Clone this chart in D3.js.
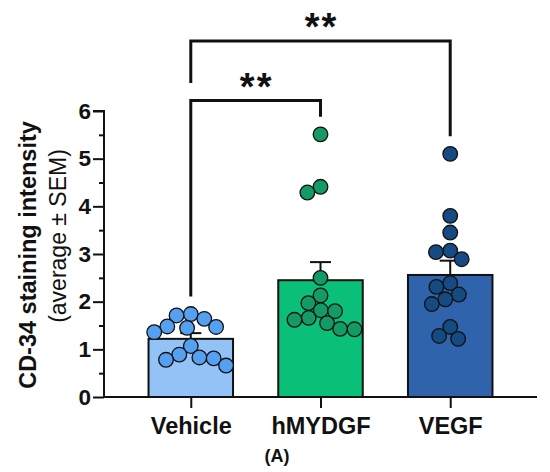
<!DOCTYPE html>
<html>
<head>
<meta charset="utf-8">
<script src="https://cdn.jsdelivr.net/npm/d3@7"></script>
<style>
  html, body { margin: 0; padding: 0; background: #fff; }
  svg { display: block; }
  text { font-family: "Liberation Sans", Arial, Helvetica, sans-serif; }
</style>
</head>
<body>
<svg id="chart" width="550" height="472"></svg>
<script>
// ---------------- data ----------------
const categories = ["Vehicle", "hMYDGF", "VEGF"];
const vehicleValues = [1.74, 1.71, 1.64, 1.48, 1.47, 1.45, 1.36, 1.07, 0.89, 0.83, 0.81, 0.78, 0.66];
const hmydgfValues  = [5.51, 4.41, 4.29, 2.50, 2.13, 1.97, 1.82, 1.80, 1.66, 1.62, 1.55, 1.43, 1.42];
const vegfValues    = [5.10, 3.80, 3.45, 3.07, 3.04, 2.89, 2.39, 2.31, 2.15, 2.05, 1.95, 1.47, 1.28, 1.22];
const meanValues = [1.22, 2.45, 2.56];
const semValues  = [0.12, 0.38, 0.30];
const yTickValues = [0, 1, 2, 3, 4, 5, 6];
const yMinorTickValues = [0.5, 1.5, 2.5, 3.5, 4.5, 5.5];
const comparisonFrom = ["Vehicle", "Vehicle"];
const comparisonTo   = ["hMYDGF", "VEGF"];
const comparisonLabels = ["**", "**"];
const yTitle = "CD-34 staining intensity";
const ySubtitle = "(average \u00b1 SEM)";
const panelLabel = "(A)";

// ---------------- layout / style ----------------
const groupValues = [vehicleValues, hmydgfValues, vegfValues];
const barColors = ["#93c2f6", "#0abf77", "#2f63ab"];
const dotColors = ["#55a0f1", "#139a67", "#164a82"];

const svg = d3.select("#chart");
const axisX0 = 104, axisX1 = 537;
const y = d3.scaleLinear().domain([0, 6]).range([397, 111]);
const x = d3.scalePoint().domain(categories).range([axisX0, axisX1]).padding(0.669);
const barWidth = 84.5;
const r = 7.3;

// bars
svg.append("g").selectAll("rect").data(categories).join("rect")
  .attr("x", d => x(d) - barWidth / 2)
  .attr("width", barWidth)
  .attr("y", (d, i) => y(meanValues[i]))
  .attr("height", (d, i) => y(0) - y(meanValues[i]))
  .attr("fill", (d, i) => barColors[i])
  .attr("stroke", "#111")
  .attr("stroke-width", 2);

// error bars (upward only)
const eb = svg.append("g").attr("stroke", "#111").attr("stroke-width", 2);
categories.forEach((c, i) => {
  const top = y(meanValues[i] + semValues[i]);
  eb.append("line").attr("x1", x(c)).attr("x2", x(c)).attr("y1", y(meanValues[i])).attr("y2", top);
  eb.append("line").attr("x1", x(c) - 10.5).attr("x2", x(c) + 10.5).attr("y1", top).attr("y2", top);
});

// beeswarm layout computed from values
function swarm(values, cx) {
  const minD = 2 * r * 0.98;
  const placed = [];
  const pts = values.map(v => ({ v, py: y(v) })).sort((a, b) => a.py - b.py);
  pts.forEach(p => {
    const cands = [0];
    placed.forEach(q => {
      const dy = Math.abs(q.py - p.py);
      if (dy < minD) {
        const dx = Math.sqrt(minD * minD - dy * dy);
        cands.push(q.dx + dx + 0.01, q.dx - dx - 0.01);
      }
    });
    cands.sort((a, b) => Math.abs(a) - Math.abs(b) || a - b);
    let chosen = 0;
    for (const c of cands) {
      const ok = placed.every(q => Math.hypot(q.dx - c, q.py - p.py) >= minD - 0.02);
      if (ok) { chosen = c; break; }
    }
    p.dx = chosen;
    placed.push(p);
  });
  return pts.map(p => ({ v: p.v, px: cx + p.dx, py: p.py }));
}

categories.forEach((c, i) => {
  const pts = swarm(groupValues[i], x(c));
  svg.append("g").selectAll("circle").data(pts).join("circle")
    .attr("cx", d => d.px)
    .attr("cy", d => y(d.v))
    .attr("r", r)
    .attr("fill", dotColors[i])
    .attr("stroke", "#111")
    .attr("stroke-width", 1.3);
});

// y axis
const yAxis = d3.axisLeft(y).tickValues(yTickValues).tickSize(11).tickPadding(2).tickFormat(d3.format("d"));
const gy = svg.append("g").attr("transform", `translate(${axisX0},0)`).call(yAxis);
gy.select(".domain").attr("stroke", "#111").attr("stroke-width", 2).attr("d", `M-11,${y(6)}H0V${y(0)}`);
gy.selectAll(".tick line").attr("stroke", "#111").attr("stroke-width", 2);
gy.selectAll(".tick text").attr("font-size", 22.5).attr("font-weight", "bold").attr("fill", "#111")
  .attr("font-family", "Liberation Sans, Arial, sans-serif");
const yMinor = d3.axisLeft(y).tickValues(yMinorTickValues).tickSize(5).tickFormat("");
const gym = svg.append("g").attr("transform", `translate(${axisX0},0)`).call(yMinor);
gym.select(".domain").remove();
gym.selectAll(".tick line").attr("stroke", "#111").attr("stroke-width", 2);

// x axis
const xAxis = d3.axisBottom(x).tickSize(11).tickPadding(9);
const gx = svg.append("g").attr("transform", `translate(0,${y(0)})`).call(xAxis);
gx.select(".domain").attr("stroke", "#111").attr("stroke-width", 2).attr("d", `M${axisX0 - 1},0H${axisX1}`);
gx.selectAll(".tick line").attr("stroke", "#111").attr("stroke-width", 2);
gx.selectAll(".tick text").attr("font-size", 23.5).attr("font-weight", "bold").attr("fill", "#111")
  .attr("font-family", "Liberation Sans, Arial, sans-serif");

// y titles
svg.append("text")
  .attr("transform", "translate(28,255) rotate(-90)")
  .attr("text-anchor", "middle").attr("dy", "0.35em")
  .attr("font-size", 23.5).attr("font-weight", "bold").attr("fill", "#111")
  .text(yTitle);
svg.append("text")
  .attr("transform", "translate(58,236) rotate(-90)")
  .attr("text-anchor", "middle").attr("dy", "0.35em")
  .attr("font-size", 23).attr("fill", "#111")
  .text(ySubtitle);

// significance brackets
const bracketLevels = [6.22, 7.47];
const legGap = 0.37;
const gb = svg.append("g");
comparisonFrom.forEach((from, k) => {
  const i0 = categories.indexOf(from), i1 = categories.indexOf(comparisonTo[k]);
  const level = bracketLevels[k];
  const leftBelow = k === 0 ? d3.max(groupValues[i0]) : bracketLevels[k - 1];
  const rightBelow = d3.max(groupValues[i1]);
  const x0 = x(from), x1 = x(comparisonTo[k]);
  gb.append("path")
    .attr("d", `M${x0},${y(leftBelow + legGap)}V${y(level)}H${x1}V${y(rightBelow + legGap)}`)
    .attr("fill", "none").attr("stroke", "#111").attr("stroke-width", 3);
  gb.append("text")
    .attr("x", (x0 + x1) / 2 + 1).attr("y", y(level) - 1)
    .attr("text-anchor", "middle")
    .attr("font-size", 38).attr("font-weight", "bold").attr("fill", "#111")
    .attr("letter-spacing", 2)
    .text(comparisonLabels[k]);
});

// panel label
svg.append("text")
  .attr("x", 277).attr("y", 462)
  .attr("text-anchor", "middle")
  .attr("font-family", "Liberation Serif, Times New Roman, serif")
  .attr("font-size", 18).attr("font-weight", "bold").attr("fill", "#111")
  .text(panelLabel);
</script>
</body>
</html>
